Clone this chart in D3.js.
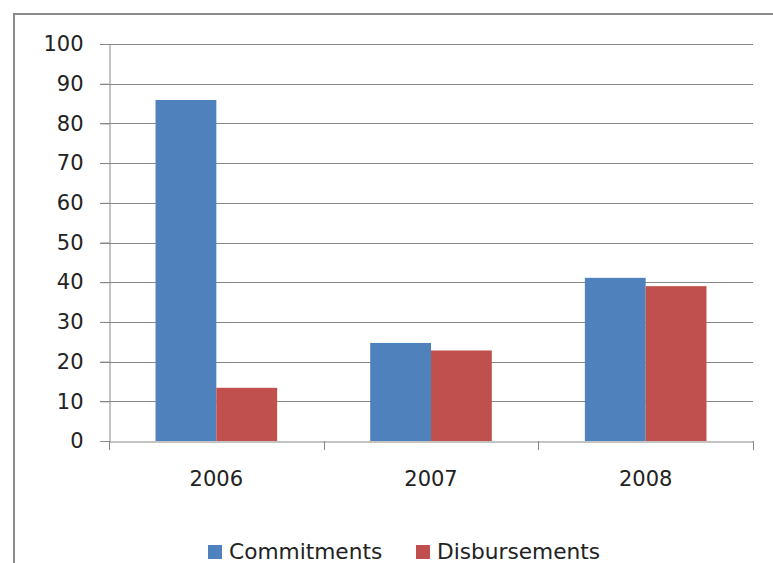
<!DOCTYPE html>
<html>
<head>
<meta charset="utf-8">
<script src="https://cdn.jsdelivr.net/npm/d3@7/dist/d3.min.js"></script>
<style>
  html, body { margin: 0; padding: 0; background: #fff; overflow: hidden; }
  svg { display: block; }
  text { font-family: "DejaVu Sans", sans-serif; fill: #222; }
</style>
</head>
<body>
<svg id="chart" width="773" height="563"></svg>
<script>
const categories = ["2006", "2007", "2008"];
const seriesNames = ["Commitments", "Disbursements"];
const commitments = [85.9, 24.7, 41.1];
const disbursements = [13.4, 22.8, 39.0];
const yTicks = [0, 10, 20, 30, 40, 50, 60, 70, 80, 90, 100];
const colors = ["#4F81BD", "#C0504D"];

(function () {
const seriesValues = [commitments, disbursements];
const svg = d3.select("#chart");
const W = 773, H = 563;

// outer chart border (clipped at right and bottom)
svg.append("rect")
  .attr("x", 14).attr("y", 14)
  .attr("width", W + 20).attr("height", H + 20)
  .attr("fill", "#fff").attr("stroke", "#8a8a8a").attr("stroke-width", 2);

const pLeft = 109, pRight = 753, pTop = 44, pBottom = 441;

const x0 = d3.scaleBand().domain(categories).range([pLeft, pRight]).padding(0);
const x1 = d3.scaleBand().domain(seriesNames).range([0, x0.bandwidth()])
  .paddingInner(0).paddingOuter(0.765);
const y = d3.scaleLinear().domain([0, 100]).range([pBottom, pTop]);

const gridColor = "#878787";

// gridlines
svg.append("g").selectAll("line").data(yTicks.filter(d => d > 0)).join("line")
  .attr("x1", pLeft - 9).attr("x2", pRight)
  .attr("y1", d => Math.round(y(d)) + 0.5).attr("y2", d => Math.round(y(d)) + 0.5)
  .attr("stroke", gridColor).attr("stroke-width", 1);

// bars
const data = categories.map((c, i) => ({ cat: c, vals: seriesNames.map((s, j) => ({ s, j, v: seriesValues[j][i] })) }));
svg.append("g").selectAll("g").data(data).join("g")
  .attr("transform", d => `translate(${x0(d.cat)},0)`)
  .selectAll("rect").data(d => d.vals).join("rect")
  .attr("x", d => x1(d.s))
  .attr("width", x1.bandwidth())
  .attr("y", d => y(d.v))
  .attr("height", d => y(0) - y(d.v))
  .attr("fill", d => colors[d.j]);

// y axis
const yAxis = svg.append("g").attr("transform", `translate(${pLeft + 0.5},0)`)
  .call(d3.axisLeft(y).tickValues(yTicks).tickSize(9).tickPadding(17).tickFormat(d3.format("d")));
yAxis.select(".domain").attr("stroke", gridColor);
yAxis.selectAll(".tick line").attr("stroke", gridColor);
yAxis.selectAll("text").attr("font-size", 21).attr("font-family", "DejaVu Sans").attr("fill", "#222");

// x axis
const xAxis = svg.append("g").attr("transform", `translate(0,${pBottom + 0.5})`)
  .call(d3.axisBottom(x0).tickSize(0).tickPadding(30));
xAxis.select(".domain").attr("stroke", gridColor);
xAxis.selectAll("text").attr("font-size", 21).attr("font-family", "DejaVu Sans").attr("fill", "#222");
// category boundary ticks
const bounds = categories.map(c => x0(c)).concat([x0(categories[categories.length - 1]) + x0.bandwidth()]);
svg.append("g").selectAll("line").data(bounds).join("line")
  .attr("x1", d => Math.round(d) + 0.5).attr("x2", d => Math.round(d) + 0.5)
  .attr("y1", pBottom).attr("y2", pBottom + 9)
  .attr("stroke", gridColor);

// legend
const legendItems = [
  { name: seriesNames[0], color: colors[0], x: 208 },
  { name: seriesNames[1], color: colors[1], x: 416 }
];
const lg = svg.append("g").selectAll("g").data(legendItems).join("g")
  .attr("transform", d => `translate(${d.x},545)`);
lg.append("rect").attr("width", 14).attr("height", 14).attr("fill", d => d.color);
lg.append("text").attr("x", 21).attr("y", 14).attr("font-size", 21.7).text(d => d.name);
})();
</script>
</body>
</html>
